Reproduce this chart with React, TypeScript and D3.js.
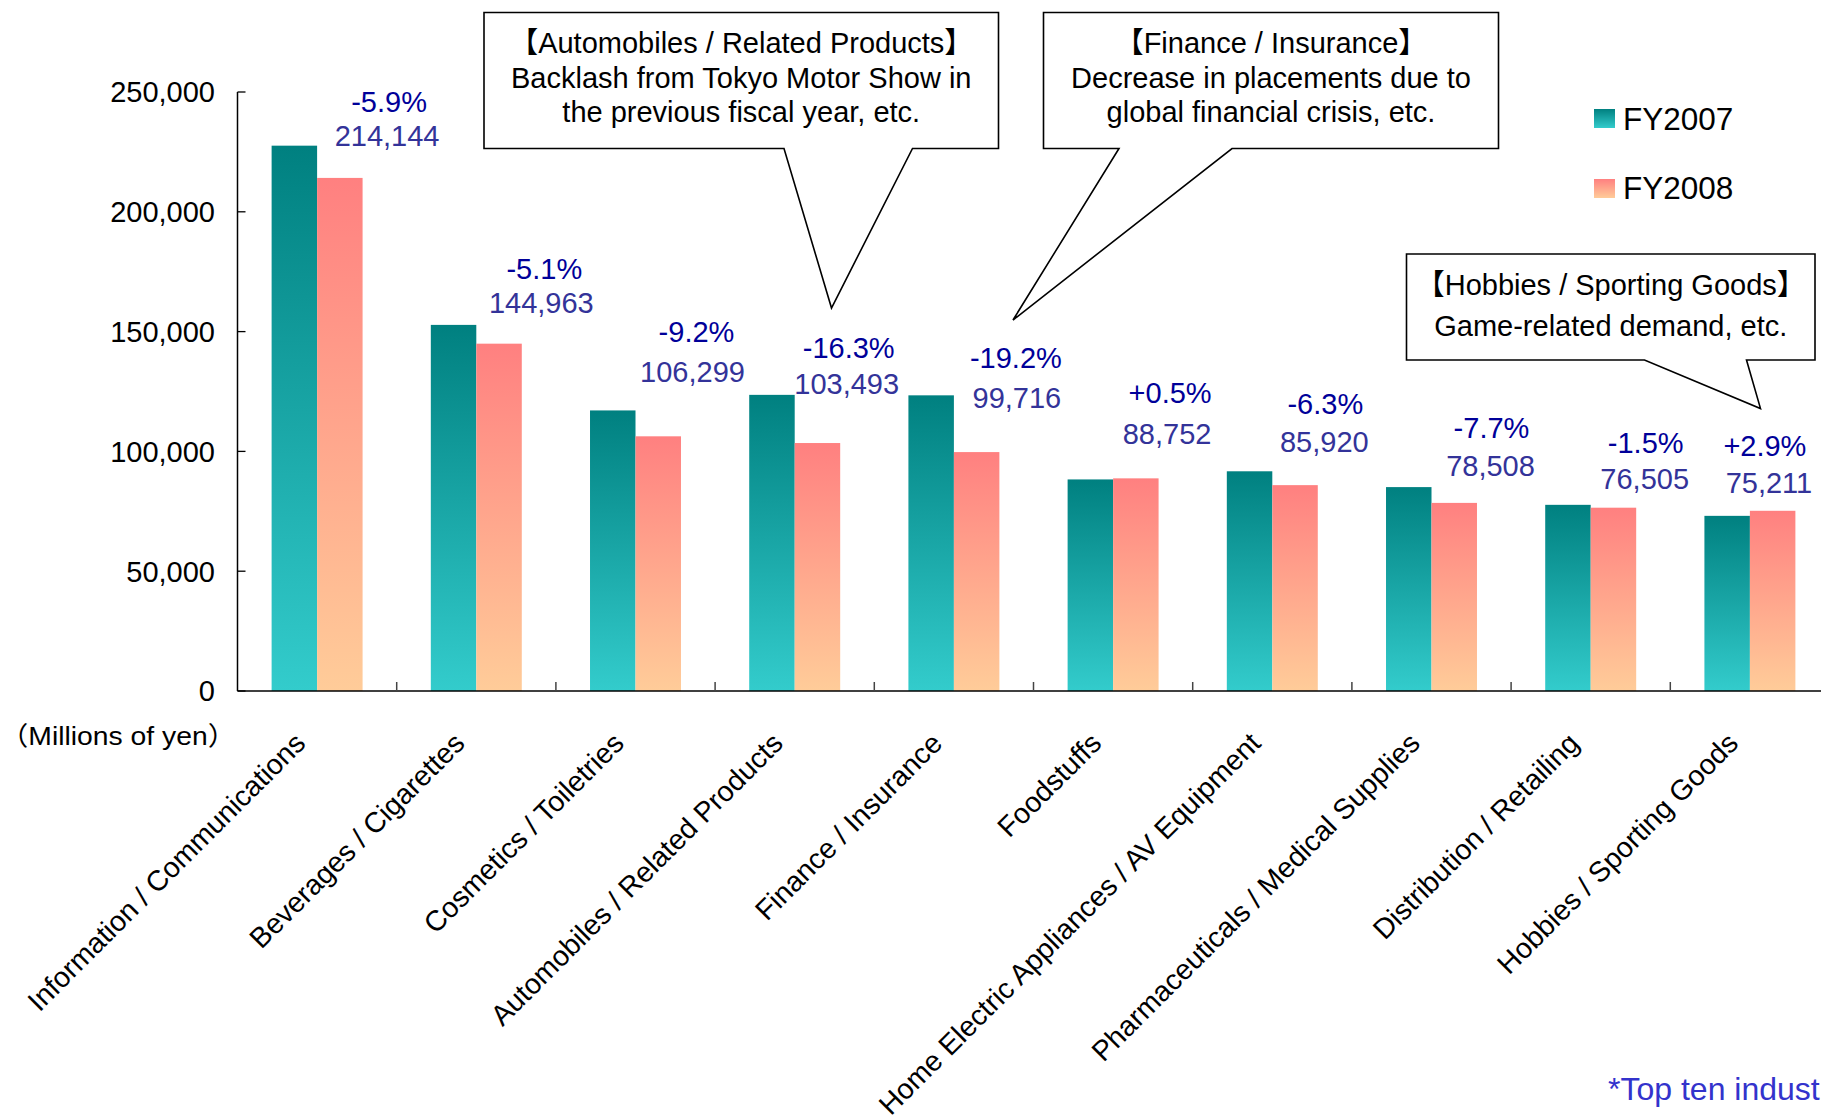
import React from "react";
import * as d3 from "d3";

// ---------- data ----------
const categories = [
  "Information / Communications",
  "Beverages / Cigarettes",
  "Cosmetics / Toiletries",
  "Automobiles / Related Products",
  "Finance / Insurance",
  "Foodstuffs",
  "Home Electric Appliances / AV Equipment",
  "Pharmaceuticals / Medical Supplies",
  "Distribution / Retailing",
  "Hobbies / Sporting Goods",
];
const seriesNames = ["FY2007", "FY2008"];
const fy2007 = [227600, 152800, 117100, 123600, 123400, 88300, 91700, 85100, 77700, 73100];
const fy2008 = [214144, 144963, 106299, 103493, 99716, 88752, 85920, 78508, 76505, 75211];
const changeLabels = ["-5.9%", "-5.1%", "-9.2%", "-16.3%", "-19.2%", "+0.5%", "-6.3%", "-7.7%", "-1.5%", "+2.9%"];
const yTicks = [0, 50000, 100000, 150000, 200000, 250000];

// label anchors (value-axis units) and horizontal shifts (layout)
const pctLabelAt = [246000, 176500, 150000, 143500, 139000, 124500, 120000, 110000, 103500, 102500];
const valueLabelAt = [232000, 162000, 133500, 128500, 122500, 107500, 104000, 94000, 88500, 87000];
const pctShift = [72, 68, 61, 54, 62, 57, 53, 60, 55, 15];
const valueShift = [70, 65, 57, 52, 63, 54, 52, 59, 54, 19];

const callouts = [
  {
    lines: ["【Automobiles / Related Products】", "Backlash from Tokyo Motor Show in", "the previous fiscal year, etc."],
    box: [484, 12.5, 998.5, 148.5], base: [784, 912.5], tip: [831.5, 308],
    baselines: [53, 87.5, 122],
  },
  {
    lines: ["【Finance / Insurance】", "Decrease in placements due to", "global financial crisis, etc."],
    box: [1043.5, 12.5, 1498.5, 148.5], base: [1119, 1232], tip: [1013, 320],
    baselines: [53, 87.5, 122],
  },
  {
    lines: ["【Hobbies / Sporting Goods】", "Game-related demand, etc."],
    box: [1406.5, 254, 1815, 360], base: [1644.5, 1746.5], tip: [1760.5, 408.5],
    baselines: [295, 335.5],
  },
];

const FONT = "'Liberation Sans', Arial, 'Noto Sans CJK JP', sans-serif";
const W = 1821;
const H = 1116;

export default function App() {
  const x0 = 237.5;
  const step = 159.2;
  const y = d3.scaleLinear().domain([0, 250000]).range([691, 92]);
  const x = d3.scaleBand().domain(categories).range([x0, x0 + step * categories.length]).padding(0);
  const xs = d3.scaleBand().domain(seriesNames).range([0, x.bandwidth()]).paddingInner(0).paddingOuter(0.75);
  const fmt = d3.format(",");
  const series = [fy2007, fy2008];
  const grads = ["gTeal", "gPink"];
  const yBase = y(0);

  return (
    <svg
      width={W}
      height={H}
      viewBox={`0 0 ${W} ${H}`}
      style={{ position: "absolute", left: 0, top: 0, display: "block", overflow: "hidden", background: "#fff" }}
      fontFamily={FONT}
    >
      <defs>
        <linearGradient id="gTeal" x1="0" y1="0" x2="0" y2="1">
          <stop offset="0" stopColor="#008080" />
          <stop offset="1" stopColor="#33CCCC" />
        </linearGradient>
        <linearGradient id="gPink" x1="0" y1="0" x2="0" y2="1">
          <stop offset="0" stopColor="#FF8080" />
          <stop offset="1" stopColor="#FFCC99" />
        </linearGradient>
      </defs>
      <rect x={0} y={0} width={W} height={H} fill="#fff" />

      {/* bars */}
      {series.map((vals, si) =>
        categories.map((c, i) => (
          <rect
            key={`b${si}-${i}`}
            x={(x(c) as number) + (xs(seriesNames[si]) as number)}
            y={y(vals[i])}
            width={xs.bandwidth()}
            height={yBase - y(vals[i])}
            fill={`url(#${grads[si]})`}
          />
        ))
      )}

      {/* axes */}
      <line x1={x0} x2={x0} y1={y(250000)} y2={yBase} stroke="#000" strokeWidth={1.5} />
      <line x1={x0} x2={W} y1={yBase} y2={yBase} stroke="#000" strokeWidth={1.5} />
      {yTicks.map((t) => (
        <g key={`yt${t}`}>
          <line x1={x0} x2={x0 + 8} y1={y(t)} y2={y(t)} stroke="#000" strokeWidth={1.3} />
          <text x={215} y={y(t)} dy="0.36em" textAnchor="end" fontSize={29} fill="#000">
            {fmt(t)}
          </text>
        </g>
      ))}
      {categories.map((c, i) => (
        <line
          key={`xt${i}`}
          x1={(x(c) as number) + step}
          x2={(x(c) as number) + step}
          y1={yBase}
          y2={yBase - 9}
          stroke="#444"
          strokeWidth={1.5}
        />
      ))}
      {categories.map((c) => {
        const cx = (x(c) as number) + x.bandwidth() / 2 - 10;
        const cy = yBase + 54;
        return (
          <text
            key={`cl${c}`}
            x={cx}
            y={cy}
            textAnchor="end"
            fontSize={28.5}
            fill="#000"
            transform={`rotate(-45 ${cx} ${cy})`}
          >
            {c}
          </text>
        );
      })}
      <text x={0} y={745} fontSize={26} textLength={236} lengthAdjust="spacingAndGlyphs" fill="#000">
        （Millions of yen）
      </text>

      {/* change labels */}
      {categories.map((c, i) => {
        const cx = (x(c) as number) + x.bandwidth() / 2;
        return (
          <g key={`lab${i}`}>
            <text x={cx + pctShift[i]} y={y(pctLabelAt[i])} dy="0.36em" textAnchor="middle" fontSize={29} fill="#000099">
              {changeLabels[i]}
            </text>
            <text x={cx + valueShift[i]} y={y(valueLabelAt[i])} dy="0.36em" textAnchor="middle" fontSize={29} fill="#333399">
              {fmt(fy2008[i])}
            </text>
          </g>
        );
      })}

      {/* callouts */}
      {callouts.map((co, k) => {
        const [bx0, by0, bx1, by1] = co.box;
        const d = `M${bx0},${by0}H${bx1}V${by1}H${co.base[1]}L${co.tip[0]},${co.tip[1]}L${co.base[0]},${by1}H${bx0}Z`;
        const mid = (bx0 + bx1) / 2;
        return (
          <g key={`co${k}`}>
            <path d={d} fill="#fff" stroke="#000" strokeWidth={1.6} strokeLinejoin="miter" />
            {co.lines.map((ln, j) => (
              <text key={j} x={mid} y={co.baselines[j]} textAnchor="middle" fontSize={29} fill="#000">
                {ln}
              </text>
            ))}
          </g>
        );
      })}

      {/* legend */}
      {seriesNames.map((s, si) => (
        <g key={`lg${s}`}>
          <rect x={1594} y={109 + si * 70} width={21} height={19} fill={`url(#${grads[si]})`} />
          <text x={1623} y={129.5 + si * 69} fontSize={31.5} fill="#000">
            {s}
          </text>
        </g>
      ))}

      {/* footnote */}
      <text x={1608} y={1100} fontSize={32} fill="#3333CC">
        *Top ten industries
      </text>
    </svg>
  );
}
